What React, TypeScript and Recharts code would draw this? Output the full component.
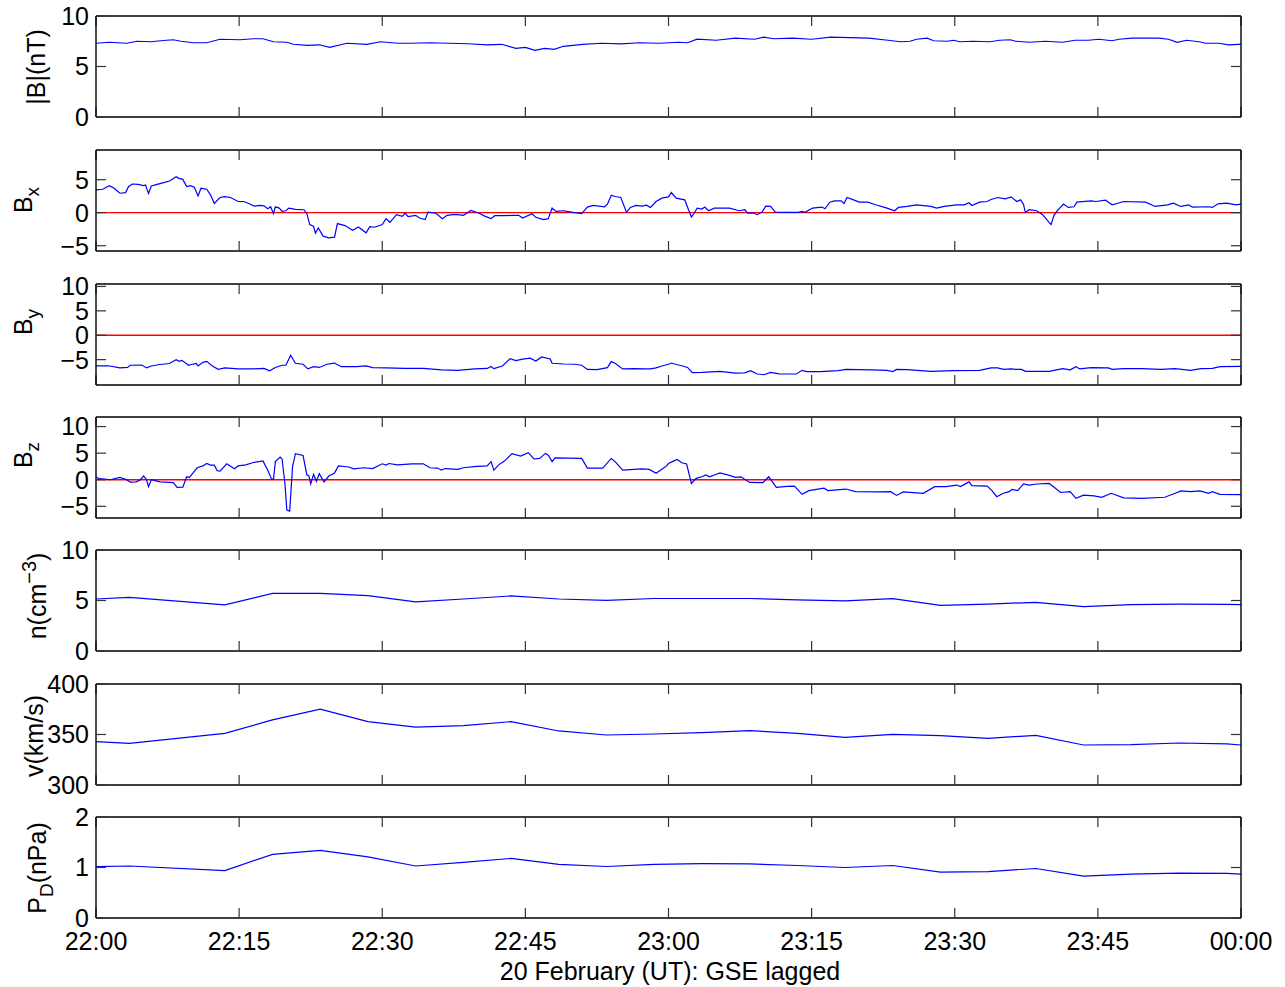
import React from 'react';
import { LineChart, Line, XAxis, YAxis, ReferenceLine } from 'recharts';

type Sample = [number, number];

// minutes after 22:00 UT
const xTicks = [0, 15, 30, 45, 60, 75, 90, 105, 120];
const xTickLabels = ['22:00', '22:15', '22:30', '22:45', '23:00', '23:15', '23:30', '23:45', '00:00'];

const bMag: Sample[] = [
  [0, 7.3], [1.4, 7.4], [3.2, 7.3], [4.3, 7.5], [5.7, 7.45], [7.4, 7.6], [8.1, 7.65], [8.9, 7.5],
  [10.2, 7.35], [11.6, 7.35], [13, 7.7], [15.1, 7.65], [16.5, 7.75], [17.5, 7.75], [18.6, 7.45],
  [20, 7.4], [20.7, 7.2], [22.1, 7.1], [23.4, 7.15], [24.5, 6.9], [26.3, 7.3], [28.4, 7.2],
  [29.8, 7.45], [31.7, 7.3], [33, 7.3], [35, 7.35], [37, 7.3], [39, 7.25], [41, 7.15], [42.5, 7.2],
  [44, 6.8], [45, 6.9], [46, 6.6], [47, 6.8], [48, 6.7], [49, 7.0], [51, 7.2], [53, 7.3], [55, 7.25],
  [57, 7.35], [59, 7.3], [61, 7.4], [62, 7.35], [63, 7.7], [65, 7.6], [67, 7.8], [69, 7.7], [70, 7.9],
  [71, 7.75], [73, 7.8], [75, 7.7], [77, 7.9], [79, 7.85], [81, 7.8], [83, 7.6], [84.3, 7.45],
  [85.3, 7.5], [86, 7.7], [87.1, 7.8], [87.8, 7.55], [89.2, 7.5], [89.9, 7.6], [90.5, 7.45],
  [91.9, 7.5], [93.7, 7.45], [94.7, 7.6], [95.8, 7.65], [96.4, 7.5], [97.8, 7.4], [99.5, 7.5],
  [101.3, 7.4], [102.6, 7.6], [104, 7.6], [105.1, 7.7], [106.5, 7.55], [107.2, 7.7], [108.6, 7.8],
  [111.4, 7.8], [112.4, 7.7], [113.3, 7.4], [114.3, 7.6], [115.6, 7.45], [116.3, 7.3], [117.7, 7.3],
  [118.7, 7.15], [119.7, 7.2], [120, 7.2],
];

const bx: Sample[] = [
  [0, 3.45], [0.7, 3.55], [1.4, 4.1], [1.9, 3.7], [2.5, 2.95], [3.1, 3.05], [3.4, 3.95], [3.8, 4.35],
  [4.4, 4.3], [5.0, 4.1], [5.2, 4.2], [5.5, 2.9], [5.8, 4.05], [6.4, 4.3], [7.1, 4.55], [7.7, 4.8],
  [8.4, 5.45], [8.7, 5.2], [9.1, 5.05], [9.5, 3.95], [9.9, 4.1], [10.3, 3.85], [10.7, 2.55], [11.0, 3.7],
  [11.6, 3.55], [12.0, 2.7], [12.4, 1.4], [13.0, 2.3], [13.5, 2.45], [14.1, 2.3], [14.9, 1.7],
  [15.5, 1.7], [16.0, 1.4], [16.6, 1.0], [17.2, 1.1], [17.6, 1.05], [18.0, 0.6], [18.3, 0.9],
  [18.6, -0.15], [18.8, 0.9], [19.2, 0.7], [19.5, 0.2], [19.9, 0.3], [20.2, 0.7], [20.9, 0.5],
  [21.8, 0.45], [22.1, -0.15], [22.4, -1.8], [22.8, -2.05], [23.0, -3.1], [23.3, -2.3], [23.8, -3.55],
  [24.4, -3.8], [25.0, -3.7], [25.3, -1.65], [26.1, -1.95], [26.9, -2.65], [27.5, -2.15], [28.3, -3.05],
  [28.7, -2.1], [29.2, -2.2], [30.0, -1.8], [30.4, -0.9], [30.8, -1.45], [31.5, -0.3], [32.1, -0.55],
  [32.4, -0.05], [32.7, -0.6], [33.5, -0.4], [33.9, -0.8], [34.5, -1.05], [34.8, 0.1], [35.6, -0.05],
  [36.3, -0.9], [36.8, -0.4], [37.4, -0.3], [37.9, -0.3], [38.5, -0.4], [39.3, 0.35], [40.1, -0.05],
  [40.8, -0.55], [41.4, -0.9], [41.8, -0.45], [42.8, -0.45], [43.6, -0.4], [44.3, -0.4], [44.7, -0.8],
  [45.7, -0.15], [46.1, -0.7], [46.9, -1.05], [47.4, -0.9], [47.8, 0.7], [48.2, 0.2], [49.0, 0.3],
  [49.8, 0.1], [50.9, -0.15], [51.5, 0.85], [52.1, 1.1], [53.3, 0.9], [53.6, 1.3], [54.0, 2.65],
  [54.4, 2.45], [55.0, 2.3], [55.6, 0.05], [56.0, 0.8], [56.6, 1.1], [57.2, 1.0], [57.7, 1.15],
  [58.1, 0.8], [58.7, 1.7], [59.3, 2.2], [60.0, 2.4], [60.3, 3.05], [60.8, 2.2], [61.7, 1.95],
  [62.1, 0.45], [62.4, -0.65], [62.7, -0.05], [63.0, 0.7], [63.5, 0.55], [63.8, 0.85], [64.2, 0.3],
  [64.8, 0.7], [66.4, 0.7], [67.4, 0.3], [68.0, 0.45], [68.3, -0.05], [68.9, -0.05], [69.3, -0.3],
  [69.8, 0.1], [70.2, 1.0], [70.7, 0.95], [71.2, 0.1], [72.4, 0.05], [73.6, 0.05], [74.0, 0.2],
  [74.3, 0.05], [75.1, 0.7], [76.1, 0.85], [76.4, 0.6], [76.9, 1.6], [77.4, 1.8], [78.1, 1.8],
  [78.4, 1.4], [78.7, 2.3], [79.4, 1.95], [80.0, 1.6], [80.9, 1.6], [81.7, 1.2], [82.9, 0.7],
  [83.7, 0.3], [84.1, 0.8], [85.0, 0.95], [86.0, 1.2], [87.5, 0.95], [88.1, 0.7], [88.9, 0.95],
  [90.2, 1.2], [91.0, 1.2], [91.5, 1.5], [91.8, 1.1], [92.6, 1.6], [93.4, 1.7], [93.8, 2.0],
  [94.5, 2.3], [95.3, 2.1], [95.9, 2.4], [96.5, 1.7], [96.9, 1.95], [97.2, 1.3], [97.4, 0.05],
  [97.8, 0.45], [98.6, 0.3], [99.2, -0.3], [99.8, -1.3], [100.1, -1.8], [100.4, -0.4], [100.8, 0.4],
  [101.4, 1.3], [101.9, 0.8], [102.5, 0.9], [102.8, 1.6], [104.3, 1.8], [104.8, 1.7], [105.8, 1.9],
  [106.5, 1.2], [107.7, 1.7], [110.0, 1.6], [111.0, 0.95], [112.3, 1.2], [112.9, 1.45], [113.7, 0.95],
  [114.5, 1.2], [114.9, 0.85], [116.6, 0.9], [117.0, 0.8], [117.6, 1.35], [118.5, 1.45], [119.5, 1.2],
  [120, 1.3],
];

const by: Sample[] = [
  [0, -6.3], [1.3, -6.25], [2.5, -6.7], [3.3, -6.6], [3.6, -6.15], [4.8, -6.1], [5.3, -6.7], [5.8, -6.3],
  [6.7, -6.0], [7.7, -5.8], [8.4, -5.0], [8.7, -5.35], [9.0, -5.15], [9.7, -6.15], [10.0, -6.0],
  [10.5, -5.8], [10.7, -6.3], [11.2, -5.55], [11.6, -5.35], [12.2, -6.3], [12.8, -7.0], [13.5, -6.7],
  [14.9, -6.9], [16.4, -6.9], [17.6, -6.8], [18.2, -7.3], [18.8, -6.6], [19.5, -6.15], [19.9, -6.15],
  [20.4, -4.1], [20.9, -5.75], [21.7, -5.95], [22.2, -6.9], [22.8, -6.45], [23.4, -6.6], [24.2, -5.95],
  [25.0, -5.7], [25.7, -6.45], [27.3, -6.45], [28.3, -6.3], [29.0, -6.65], [30.4, -6.7], [32.3, -6.8],
  [34.3, -6.8], [36.2, -7.1], [37.9, -7.2], [39.7, -6.9], [41.0, -6.8], [41.4, -6.4], [41.7, -6.85],
  [42.6, -6.3], [43.4, -4.8], [44.0, -5.2], [44.7, -4.9], [45.5, -4.7], [46.1, -5.3], [46.7, -4.45],
  [47.6, -4.85], [47.8, -5.75], [49.0, -5.9], [50.2, -5.95], [50.9, -6.15], [51.5, -7.0], [52.5, -7.05],
  [53.6, -6.65], [54.0, -5.4], [54.4, -5.75], [55.2, -6.9], [56.4, -6.85], [57.5, -6.9], [58.1, -6.9],
  [58.7, -6.7], [59.3, -6.3], [60.0, -5.95], [60.3, -5.7], [60.8, -6.0], [61.4, -6.25], [62.0, -6.6],
  [62.5, -7.65], [63.5, -7.6], [65.4, -7.4], [67.0, -7.75], [68.0, -7.7], [68.6, -7.25], [69.3, -7.95],
  [70.0, -8.1], [70.7, -7.6], [71.6, -7.9], [73.4, -7.95], [74.0, -7.2], [74.5, -7.45], [75.9, -7.45],
  [77.8, -7.25], [78.6, -7.0], [81.3, -7.1], [82.9, -7.2], [83.5, -7.45], [83.9, -7.0], [85.0, -7.05],
  [86.4, -7.25], [87.5, -7.4], [89.8, -7.25], [92.6, -7.2], [93.8, -6.7], [94.5, -6.7], [95.1, -7.0],
  [95.9, -6.9], [96.4, -7.0], [97.0, -7.0], [97.4, -7.4], [99.9, -7.4], [101.3, -6.85], [102.1, -7.1],
  [102.7, -6.45], [103.1, -6.9], [104.3, -6.65], [106.1, -6.7], [106.5, -7.0], [107.7, -6.85],
  [109.6, -6.85], [111.6, -7.0], [113.1, -6.85], [114.7, -7.2], [115.8, -6.85], [117.0, -6.8],
  [117.8, -6.45], [120, -6.4],
];

const bz: Sample[] = [
  [0, 0.55], [0.3, 0.2], [0.9, 0.1], [1.5, 0], [2.5, 0.45], [3.1, 0.1], [3.6, -0.45], [4.2, -0.4],
  [4.6, -0.1], [5.0, 0.7], [5.3, -0.05], [5.5, -1.3], [5.8, 0], [6.7, -0.4], [7.7, -0.5], [8.1, -0.55],
  [8.5, -1.45], [9.1, -1.4], [9.5, 0.55], [9.8, 0.45], [10.6, 2.25], [11.2, 2.6], [11.6, 3.05],
  [12.0, 2.75], [12.4, 2.75], [12.7, 1.7], [13.0, 1.6], [13.7, 3.0], [14.1, 2.55], [14.5, 2.05],
  [14.9, 2.6], [15.7, 2.8], [16.4, 3.2], [17.5, 3.55], [18.0, 1.8], [18.4, 0.1], [18.6, 0.1],
  [18.8, 3.4], [19.3, 4.25], [19.5, 3.9], [19.8, -0.7], [20.0, -5.7], [20.3, -5.9], [20.6, 2.45],
  [20.9, 4.9], [21.7, 4.55], [22.1, 0.9], [22.3, 0.8], [22.5, -0.8], [22.8, 1.0], [23.1, -0.3],
  [23.4, 1.15], [23.9, -0.4], [24.4, 0.7], [25.0, 1.25], [25.4, 2.6], [26.5, 2.4], [27.0, 2.05],
  [28.1, 2.25], [29.0, 2.1], [30.0, 3.0], [30.4, 2.75], [30.7, 3.05], [31.6, 2.8], [33.1, 3.0],
  [34.3, 3.0], [35.0, 2.25], [35.8, 2.2], [36.2, 1.8], [36.6, 2.1], [37.9, 1.95], [38.5, 2.25],
  [39.9, 2.5], [41.0, 2.6], [41.4, 3.4], [41.7, 1.8], [42.2, 2.8], [42.8, 3.5], [43.6, 4.9],
  [44.5, 4.45], [45.3, 5.1], [45.9, 3.9], [46.5, 4.0], [47.1, 4.95], [47.4, 4.6], [47.8, 3.4],
  [48.1, 4.1], [49.4, 4.05], [50.9, 4.0], [51.5, 2.2], [53.1, 2.2], [54.0, 4.0], [54.4, 3.4],
  [55.2, 1.8], [56.4, 1.95], [57.2, 2.05], [58.0, 1.95], [58.7, 1.2], [59.3, 1.95], [59.8, 2.6],
  [60.0, 3.05], [60.4, 3.4], [60.9, 3.8], [61.4, 3.2], [61.9, 2.95], [62.4, -0.7], [62.9, 0.25],
  [63.5, 0.55], [63.9, 0.9], [64.3, 0.55], [64.8, 0.9], [65.4, 1.3], [66.2, 0.9], [67.0, 0.45],
  [67.6, 0.55], [68.5, -0.5], [69.9, -0.55], [70.5, 0.55], [71.3, -1.45], [72.4, -1.25], [73.2, -1.2],
  [74.0, -2.75], [74.7, -2.05], [76.3, -1.6], [76.7, -2.05], [78.6, -1.75], [79.6, -2.25], [82.1, -2.3],
  [83.3, -2.25], [83.9, -2.95], [84.6, -2.3], [86.7, -2.55], [87.9, -1.3], [89.1, -1.3], [90.2, -1.0],
  [90.6, -1.3], [91.5, -0.4], [91.8, -1.1], [93.4, -1.2], [93.9, -2.05], [94.4, -3.2], [95.1, -2.55],
  [95.7, -2.25], [96.0, -1.8], [96.6, -2.05], [97.2, -0.8], [97.8, -1.0], [98.6, -0.8], [99.9, -0.7],
  [101.1, -2.4], [102.1, -2.25], [102.7, -3.5], [103.5, -2.9], [104.6, -3.05], [105.4, -3.3],
  [106.4, -2.55], [107.7, -3.4], [109.6, -3.5], [112.0, -3.3], [113.1, -2.55], [113.7, -2.1],
  [114.7, -2.25], [115.7, -2.1], [116.6, -2.55], [117.0, -2.25], [117.8, -2.75], [120, -2.8],
];

// plasma moments, 5-min cadence
const plasmaTime = [0, 3.5, 13.5, 18.5, 23.5, 28.5, 33.5, 38.5, 43.5, 48.5, 53.5, 58.5, 63.5, 68.5, 73.5, 78.5, 83.5, 88.5, 93.5, 98.5, 103.5, 108.5, 113.5, 118.5, 120];
const density = [5.15, 5.3, 4.56, 5.7, 5.7, 5.48, 4.86, 5.15, 5.45, 5.15, 5.02, 5.2, 5.2, 5.2, 5.07, 4.97, 5.18, 4.52, 4.65, 4.82, 4.39, 4.59, 4.65, 4.62, 4.59];
const speed = [343, 341.3, 351.2, 364.4, 375.2, 362.7, 357.4, 358.7, 362.7, 353.5, 349.5, 350.5, 351.8, 353.8, 351.2, 347.2, 350.2, 348.8, 346.2, 349.2, 339.6, 339.9, 341.6, 340.8, 339.6];
const pressure = [1.016, 1.03, 0.94, 1.26, 1.34, 1.21, 1.03, 1.1, 1.18, 1.06, 1.02, 1.06, 1.075, 1.07, 1.04, 1.0, 1.04, 0.91, 0.92, 0.98, 0.83, 0.87, 0.89, 0.885, 0.87];

const FONT = '"Liberation Sans", Arial, Helvetica, sans-serif';
const W = 1285;
const H = 987;
const PLOT_RIGHT = 1241;
const PLOT_H = 101;
const PAD = 18; // room for tick labels above / below the frame
const AX = 1; // thickness given to the frame-only axes

const fromSamples = (s: Sample[]) => s.map(([t, v]) => ({ t, v }));
const fromColumns = (ts: number[], vs: number[]) => ts.map((t, i) => ({ t, v: vs[i] }));
const fmtTime = (v: number) => xTickLabels[xTicks.indexOf(v)] ?? '';
const fmtNum = (v: number) => String(v).replace('-', '\u2212');

const panels = [
  { key: 'b', top: 16, domain: [0, 10], ticks: [0, 5, 10], rows: fromSamples(bMag), zero: false },
  { key: 'bx', top: 150, domain: [-5.8, 9.5], ticks: [-5, 0, 5], rows: fromSamples(bx), zero: true },
  { key: 'by', top: 284, domain: [-10.2, 10.5], ticks: [-5, 0, 5, 10], rows: fromSamples(by), zero: true },
  { key: 'bz', top: 417, domain: [-7.2, 11.8], ticks: [-5, 0, 5, 10], rows: fromSamples(bz), zero: true },
  { key: 'n', top: 550, domain: [0, 10], ticks: [0, 5, 10], rows: fromColumns(plasmaTime, density), zero: false },
  { key: 'v', top: 684, domain: [300, 400], ticks: [300, 350, 400], rows: fromColumns(plasmaTime, speed), zero: false },
  { key: 'p', top: 817, domain: [0, 2], ticks: [0, 1, 2], rows: fromColumns(plasmaTime, pressure), zero: false },
];

const frame = { stroke: '#000', strokeWidth: 1.4 };
const tickLine = { stroke: '#333', strokeWidth: 1.2 };
const tickText = { fontSize: 25, fill: '#000', fontFamily: FONT };
// tick marks without a label
const noLabel = () => <g />;

function Panel({ top, domain, ticks, rows, zero, last }: any) {
  const bottomH = last ? 50 : AX;
  return (
    <div style={{ position: 'absolute', left: 0, top: top - PAD - AX }}>
      <LineChart
        width={W}
        height={PAD + AX + PLOT_H + bottomH + PAD}
        margin={{ top: PAD, right: W - PLOT_RIGHT - AX, bottom: PAD, left: 0 }}
      >
        <XAxis
          xAxisId="b"
          type="number"
          dataKey="t"
          domain={[0, 120]}
          allowDataOverflow
          ticks={xTicks}
          interval={0}
          height={bottomH}
          tickSize={-10}
          tickMargin={24.5}
          axisLine={frame}
          tickLine={tickLine}
          tick={last ? tickText : noLabel}
          tickFormatter={fmtTime}
        />
        <XAxis
          xAxisId="t"
          orientation="top"
          type="number"
          dataKey="t"
          domain={[0, 120]}
          allowDataOverflow
          ticks={xTicks}
          interval={0}
          height={AX}
          tickSize={-10}
          axisLine={frame}
          tickLine={tickLine}
          tick={noLabel}
        />
        <YAxis
          yAxisId="l"
          type="number"
          domain={domain}
          allowDataOverflow
          ticks={ticks}
          interval={0}
          width={96}
          tickSize={-10}
          tickMargin={17}
          axisLine={frame}
          tickLine={tickLine}
          tick={tickText}
          tickFormatter={fmtNum}
        />
        <YAxis
          yAxisId="r"
          orientation="right"
          type="number"
          domain={domain}
          allowDataOverflow
          ticks={ticks}
          interval={0}
          width={AX}
          tickSize={-10}
          axisLine={frame}
          tickLine={tickLine}
          tick={noLabel}
        />
        {zero && (
          <ReferenceLine xAxisId="b" yAxisId="l" y={0} stroke="#ff0000" strokeWidth={1.3} />
        )}
        {/* invisible twin so the top and right frame axes have a series bound to them */}
        <Line
          xAxisId="t"
          yAxisId="r"
          data={rows}
          dataKey="v"
          stroke="none"
          dot={false}
          activeDot={false}
          isAnimationActive={false}
        />
        <Line
          xAxisId="b"
          yAxisId="l"
          data={rows}
          dataKey="v"
          type="linear"
          stroke="#0000ff"
          strokeWidth={1.2}
          dot={false}
          isAnimationActive={false}
        />
      </LineChart>
    </div>
  );
}

function AxisLabels() {
  const rot = (x: number, y: number) => `translate(${x},${y}) rotate(-90)`;
  return (
    <svg
      width={W}
      height={H}
      style={{ position: 'absolute', left: 0, top: 0, pointerEvents: 'none' }}
      fontFamily={FONT}
      fontSize={25}
      fill="#000"
    >
      <text transform={rot(45, 67)} textAnchor="middle">|B|(nT)</text>
      <text transform={rot(32, 200)} textAnchor="middle">
        B<tspan dy={7} fontSize={19}>x</tspan>
      </text>
      <text transform={rot(32, 322)} textAnchor="middle">
        B<tspan dy={7} fontSize={19}>y</tspan>
      </text>
      <text transform={rot(32, 455)} textAnchor="middle">
        B<tspan dy={7} fontSize={19}>z</tspan>
      </text>
      <text transform={rot(46, 596)} textAnchor="middle">
        n(cm<tspan dy={-10} fontSize={20}>{'\u22123'}</tspan>
        <tspan dy={10}>)</tspan>
      </text>
      <text transform={rot(43, 736)} textAnchor="middle">v(km/s)</text>
      <text transform={rot(46, 868)} textAnchor="middle">
        P<tspan dy={7} fontSize={19}>D</tspan>
        <tspan dy={-7}>(nPa)</tspan>
      </text>
      <text x={670} y={980} textAnchor="middle">20 February (UT): GSE lagged</text>
    </svg>
  );
}

export default function App() {
  return (
    <div style={{ position: 'absolute', left: 0, top: 0, width: W, height: H, background: '#fff', fontFamily: FONT }}>
      {panels.map((p, i) => (
        <Panel key={p.key} {...p} last={i === panels.length - 1} />
      ))}
      <AxisLabels />
    </div>
  );
}
